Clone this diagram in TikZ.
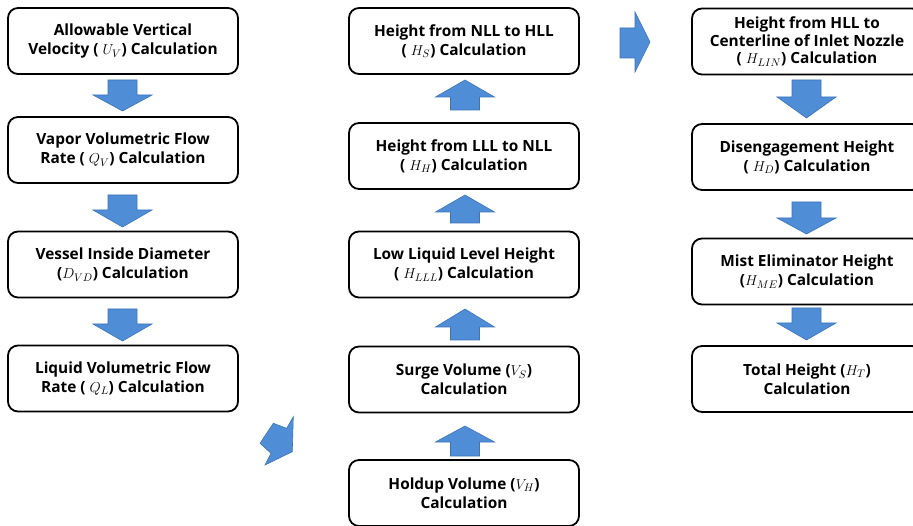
\documentclass[tikz,border=0pt]{standalone}
\usepackage{fontspec}
\setmainfont{Open Sans}
\definecolor{arrowblue}{HTML}{4F8ED6}
\definecolor{arrowedge}{HTML}{3D74B8}
\tikzset{
  calcbox/.style={draw=black, line width=1.8pt, rounded corners=10pt,
    minimum width=230pt, minimum height=66pt, align=center, inner sep=0pt,
    font=\bfseries\fontsize{15.4}{19}\selectfont},
  tallbox/.style={calcbox, font=\bfseries\fontsize{15.4}{17.5}\selectfont},
  blockarrow/.style={fill=arrowblue, draw=arrowedge, line width=0.6pt, line join=miter}
}
% block arrow pointing down: centre x, shaft top, head base, tip
\newcommand\downblock[4]{%
  \draw[blockarrow] (#1-14.5,#2) -- (#1+14.5,#2) -- (#1+14.5,#3) -- (#1+29.5,#3)
    -- (#1,#4) -- (#1-29.5,#3) -- (#1-14.5,#3) -- cycle;}
% block arrow pointing up: centre x, shaft bottom, head base, tip
\newcommand\upblock[4]{%
  \draw[blockarrow] (#1-14.5,#2) -- (#1+14.5,#2) -- (#1+14.5,#3) -- (#1+29.5,#3)
    -- (#1,#4) -- (#1-29.5,#3) -- (#1-14.5,#3) -- cycle;}
\begin{document}
\begin{tikzpicture}[x=1pt,y=-1pt]
\useasboundingbox (0,0) rectangle (913,526);
\fill[white] (0,0) rectangle (913,526);

% first column: vapour side and liquid flow
\node[calcbox] (uv)  at (123,41)    {Allowable Vertical\\Velocity ( $U_V$) Calculation};
\node[calcbox] (qv)  at (123,150)   {Vapor Volumetric Flow\\Rate ( $Q_V$) Calculation};
\node[calcbox] (dvd) at (123,264.5) {Vessel Inside Diameter\\($D_{VD}$) Calculation};
\node[calcbox] (ql)  at (123,378.5) {Liquid Volumetric Flow\\Rate ( $Q_L$) Calculation};

\downblock{122.5}{80}{95}{111}
\downblock{122.5}{195}{210}{227}
\downblock{122.5}{309}{324}{341}

% second column: liquid levels, built from the bottom up
\node[calcbox] (hs)   at (464,41)    {Height from NLL to HLL\\( $H_S$) Calculation};
\node[calcbox] (hh)   at (464,156)   {Height from LLL to NLL\\( $H_H$) Calculation};
\node[calcbox] (hlll) at (464,264.5) {Low Liquid Level Height\\( $H_{LLL}$) Calculation};
\node[calcbox] (vs)   at (464,379.5) {Surge Volume ($V_S$)\\Calculation};
\node[calcbox] (vh)   at (464,493)   {Holdup Volume ($V_H$)\\Calculation};

\upblock{465}{110}{97}{80}
\upblock{465}{223}{212}{195}
\upblock{465}{340}{327}{309}
\upblock{465}{456}{442}{426}

% third column: vapour space heights
\node[tallbox] (hlin) at (807,41.5) {Height from HLL to\\Centerline of Inlet Nozzle\\( $H_{LIN}$) Calculation};
\node[calcbox] (hd)   at (807,157)  {Disengagement Height\\( $H_D$) Calculation};
\node[calcbox] (hme)  at (807,271.5){Mist Eliminator Height\\($H_{ME}$) Calculation};
\node[calcbox] (ht)   at (807,379)  {Total Height ($H_T$)\\Calculation};

\downblock{806.5}{80}{97}{118}
\downblock{806.5}{202}{218}{234}
\downblock{806.5}{308}{323}{340}

% jump from the first column to the holdup volume
\draw[blockarrow] (293.3,416.7) -- (292.3,451.7) -- (265,465) -- (271,453.3)
  -- (260,443.3) -- (273.3,423.3) -- (286.7,428.3) -- cycle;

% jump from the second column to the third
\draw[blockarrow] (620,28) -- (635,28) -- (635,12) -- (650,42) -- (635,72)
  -- (635,58) -- (620,58) -- cycle;
\end{tikzpicture}
\end{document}
